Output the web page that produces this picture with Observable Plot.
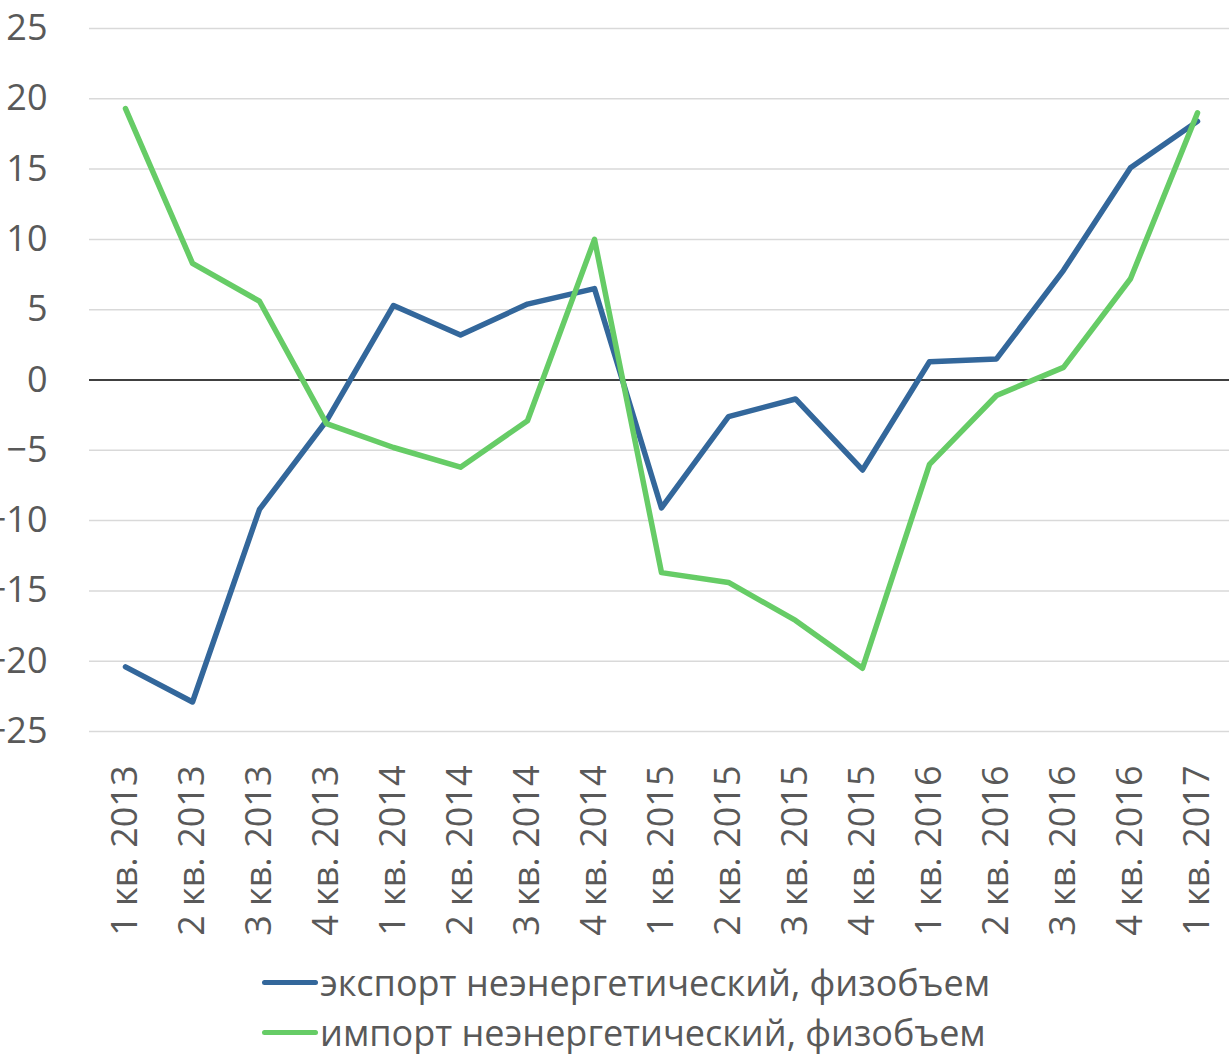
<!DOCTYPE html>
<html>
<head>
<meta charset="utf-8">
<script src="https://cdn.jsdelivr.net/npm/d3@7"></script>
<script src="https://cdn.jsdelivr.net/npm/@observablehq/plot@0.6"></script>
<style>
  html, body { margin: 0; padding: 0; background: #fff; }
  body { width: 1229px; height: 1054px; overflow: hidden; font-family: "Open Sans", sans-serif; }
  #legend { padding-left: 262px; margin-top: 7px; color: #595959; font-size: 36px; }
  .item { height: 50px; display: flex; align-items: center; }
  .sw { width: 56px; height: 5px; border-radius: 3px; margin-right: 2px; }
</style>
</head>
<body>
<div id="chart"></div>
<div id="legend"></div>
<script>
const quarters = [
  "1 кв. 2013","2 кв. 2013","3 кв. 2013","4 кв. 2013",
  "1 кв. 2014","2 кв. 2014","3 кв. 2014","4 кв. 2014",
  "1 кв. 2015","2 кв. 2015","3 кв. 2015","4 кв. 2015",
  "1 кв. 2016","2 кв. 2016","3 кв. 2016","4 кв. 2016",
  "1 кв. 2017"
];
const exportValues = [-20.4, -22.9, -9.2, -2.9, 5.3, 3.2, 5.4, 6.5, -9.1, -2.6, -1.35, -6.4, 1.3, 1.5, 7.8, 15.1, 18.4];
const importValues = [19.3, 8.3, 5.6, -3.1, -4.8, -6.2, -2.9, 10.0, -13.7, -14.4, -17.1, -20.5, -6.0, -1.1, 0.9, 7.2, 19.0];
const yTicks = [-25, -20, -15, -10, -5, 0, 5, 10, 15, 20, 25];
const seriesNames = ["экспорт неэнергетический, физобъем", "импорт неэнергетический, физобъем"];
const seriesColors = ["#33679B", "#66CC66"];

const data = [
  ...quarters.map((q, i) => ({q, v: exportValues[i], s: seriesNames[0]})),
  ...quarters.map((q, i) => ({q, v: importValues[i], s: seriesNames[1]}))
];

const chart = Plot.plot({
  width: 1229,
  height: 950,
  marginLeft: 89,
  marginRight: 0,
  marginTop: 28,
  marginBottom: 219,
  style: {fontFamily: "'Open Sans', sans-serif", fontSize: "36px", color: "#595959", overflow: "visible"},
  x: {type: "point", domain: quarters, range: [122, 1200], padding: 0},
  y: {domain: [-25, 25]},
  color: {domain: seriesNames, range: seriesColors},
  marks: [
    Plot.ruleY(yTicks.filter(d => d !== 0), {stroke: "#d9d9d9", strokeWidth: 1.5}),
    Plot.ruleY([0], {stroke: "#000", strokeWidth: 1.3}),
    Plot.axisY({ticks: yTicks, tickSize: 0, tickPadding: 42, fontSize: 36, fill: "#595959", label: null}),
    Plot.axisX({tickSize: 0, tickPadding: 34, tickRotate: -90, fontSize: 36, fill: "#595959", label: null}),
    Plot.line(data, {x: "q", y: "v", z: "s", stroke: "s", strokeWidth: 5.5, strokeLinejoin: "round", strokeLinecap: "round"})
  ]
});
document.getElementById("chart").appendChild(chart);

const legend = document.getElementById("legend");
seriesNames.forEach((name, i) => {
  const item = document.createElement("div");
  item.className = "item";
  const sw = document.createElement("span");
  sw.className = "sw";
  sw.style.background = seriesColors[i];
  const t = document.createElement("span");
  t.textContent = name;
  item.appendChild(sw);
  item.appendChild(t);
  legend.appendChild(item);
});
</script>
</body>
</html>
